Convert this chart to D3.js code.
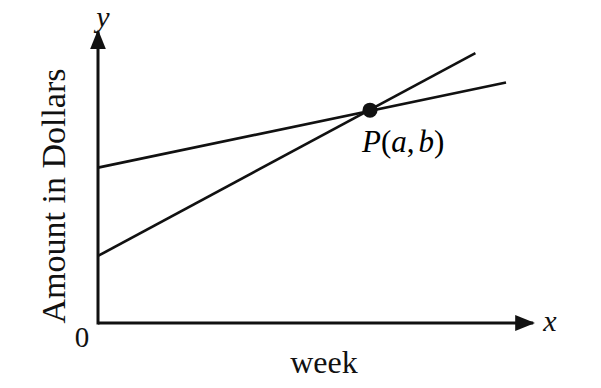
<!DOCTYPE html>
<html>
<head>
<meta charset="utf-8">
<script src="https://cdn.jsdelivr.net/npm/d3@7"></script>
<style>
  body { margin: 0; background: #fff; }
</style>
</head>
<body>
<div id="container"></div>
<script>
let w = 601;
let h = 388;
let serif = "'Liberation Serif', 'Times New Roman', Tinos, 'DejaVu Serif', 'Noto Serif', serif";

// data (weeks, dollars)
let lineNames = ["shallow", "steep"];
let startWeeks = [0, 0];
let startAmounts = [73, 31.5];
let endWeeks = [12, 11.1];
let endAmounts = [113, 126.8];
let pointP = [8, 100];
let pointLabel = ["P", "(", "a", ",", "b", ")"];

let viz = d3.select("#container").append("svg")
    .attr("width", w)
    .attr("height", h)
    .style("background-color", "white")
;

let xScale = d3.scaleLinear().domain([0, 13]).range([98, 540]);
let yScale = d3.scaleLinear().domain([0, 140]).range([323, 25]);

// arrow heads
let defs = viz.append("defs");
defs.append("marker")
    .attr("id", "arrow")
    .attr("viewBox", "0 0 20 16")
    .attr("refX", 18)
    .attr("refY", 8)
    .attr("markerWidth", 20)
    .attr("markerHeight", 16)
    .attr("markerUnits", "userSpaceOnUse")
    .attr("orient", "auto")
  .append("path")
    .attr("d", "M0,0 L20,8 L0,16 Z")
    .attr("fill", "#111")
;

// axes
viz.append("line")
    .attr("x1", xScale(0)).attr("y1", yScale(0))
    .attr("x2", xScale(12.8)).attr("y2", yScale(0))
    .attr("stroke", "#111").attr("stroke-width", 3)
    .attr("marker-end", "url(#arrow)")
;
viz.append("line")
    .attr("x1", xScale(0)).attr("y1", yScale(0) + 1.5)
    .attr("x2", xScale(0)).attr("y2", yScale(137))
    .attr("stroke", "#111").attr("stroke-width", 3)
    .attr("marker-end", "url(#arrow)")
;

// the two lines
let lines = lineNames.map((d, i) => ({
  name: d,
  pts: [[startWeeks[i], startAmounts[i]], [endWeeks[i], endAmounts[i]]]
}));

let lineGen = d3.line().x(d => xScale(d[0])).y(d => yScale(d[1]));

viz.selectAll(".dataline").data(lines).enter()
  .append("path")
    .attr("class", "dataline")
    .attr("d", d => lineGen(d.pts))
    .attr("fill", "none")
    .attr("stroke", "#111")
    .attr("stroke-width", 2.6)
;

// point P
viz.append("circle")
    .attr("cx", xScale(pointP[0]))
    .attr("cy", yScale(pointP[1]))
    .attr("r", 7.5)
    .attr("fill", "#111")
;

let pLabel = viz.append("text")
    .attr("x", xScale(pointP[0]) - 8)
    .attr("y", yScale(pointP[1]) + 42)
    .attr("font-family", serif)
    .attr("font-size", 31)
;
pLabel.selectAll("tspan").data(pointLabel).enter()
  .append("tspan")
    .attr("font-style", d => (d == "P" || d == "a" || d == "b") ? "italic" : "normal")
    .attr("dx", d => d == "b" ? 4 : 0)
    .text(d => d)
;

// axis labels
function label(x, y, size, italic, txt) {
  return viz.append("text")
      .attr("x", x).attr("y", y)
      .attr("text-anchor", "middle")
      .attr("font-family", serif)
      .attr("font-size", size)
      .attr("font-style", italic ? "italic" : "normal")
      .attr("fill", "#111")
      .text(txt);
}
label(103, 27, 30, true, "y");
label(550, 331, 30, true, "x");
label(82, 347, 29, false, "0");
label(324, 373, 32, false, "week");
label(0, 0, 34, false, "Amount in Dollars")
    .attr("transform", "translate(65,196) rotate(-90)");
</script>
</body>
</html>
